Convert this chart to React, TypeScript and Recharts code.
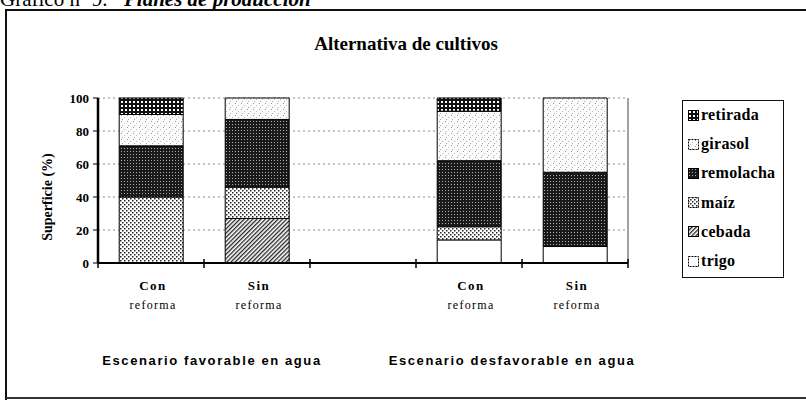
import React from 'react';
import { BarChart, Bar, XAxis, YAxis, CartesianGrid } from 'recharts';

const categoryIds = ['fav-con', 'fav-sin', 'gap', 'desf-con', 'desf-sin'];
const tickLine1 = ['Con', 'Sin', '', 'Con', 'Sin'];
const tickLine2 = ['reforma', 'reforma', '', 'reforma', 'reforma'];
const groupLabels = ['Escenario favorable en agua', 'Escenario desfavorable en agua'];
const yTicks = [0, 20, 40, 60, 80, 100];

const trigo = [null, null, null, 14, 10];
const cebada = [null, 27, null, null, null];
const maiz = [40, 19, null, 8, null];
const remolacha = [31, 41, null, 40, 45];
const girasol = [19, 13, null, 30, 45];
const retirada = [10, null, null, 8, null];

const seriesKeys = ['trigo', 'cebada', 'maiz', 'remolacha', 'girasol', 'retirada'];
const seriesNames = ['trigo', 'cebada', 'maíz', 'remolacha', 'girasol', 'retirada'];
const seriesValues = [trigo, cebada, maiz, remolacha, girasol, retirada];
const seriesFills = ['#ffffff', 'url(#pCebada)', 'url(#pMaiz)', 'url(#pRemolacha)', 'url(#pGirasol)', 'url(#pRetirada)'];

const data = categoryIds.map((id, i) => {
  const row: any = { id };
  seriesKeys.forEach((k, s) => { row[k] = seriesValues[s][i]; });
  return row;
});

const W = 806;
const H = 401;
const M = { top: 98, right: 177, bottom: 108, left: 68 };
const Y_AXIS_W = 30;
const plotW = W - M.left - Y_AXIS_W - M.right - 1;
const band = plotW / categoryIds.length;

const serif = '"Liberation Serif", "Times New Roman", serif';
const sans = '"Liberation Sans", Arial, sans-serif';

const XTick = (props: any) => {
  const { x, y, index } = props;
  const left = x - band / 2;
  const right = x + band / 2;
  return (
    <g>
      <line x1={left} y1={y - 4} x2={left} y2={y + 5} stroke="#000" strokeWidth={1.5} />
      {index === categoryIds.length - 1 && (
        <line x1={right} y1={y - 4} x2={right} y2={y + 5} stroke="#000" strokeWidth={1.5} />
      )}
      <text x={x + 2} y={y + 27} textAnchor="middle" fontFamily={serif} fontWeight="bold" fontSize={13} letterSpacing={1.5} fill="#000">
        {tickLine1[index]}
      </text>
      <text x={x + 2} y={y + 46} textAnchor="middle" fontFamily={serif} fontSize={12} letterSpacing={1.3} fill="#000">
        {tickLine2[index]}
      </text>
    </g>
  );
};

const Patterns = () => (
  <svg width={0} height={0} style={{ position: 'absolute' }}>
    <defs>
      <pattern id="pRetirada" width={4} height={4} patternUnits="userSpaceOnUse">
        <rect width={4} height={4} fill="#111" />
        <rect x={1} y={1} width={2} height={2} fill="#fff" />
      </pattern>
      <pattern id="pRemolacha" width={3} height={3} patternUnits="userSpaceOnUse">
        <rect width={3} height={3} fill="#1a1a1a" />
        <rect x={1} y={1} width={1} height={1} fill="#aaa" />
      </pattern>
      <pattern id="pMaiz" width={4} height={4} patternUnits="userSpaceOnUse">
        <rect width={4} height={4} fill="#fff" />
        <rect x={0} y={0} width={1.5} height={1.5} fill="#222" />
        <rect x={2} y={2} width={1.5} height={1.5} fill="#222" />
      </pattern>
      <pattern id="pCebada" width={3} height={3} patternUnits="userSpaceOnUse" patternTransform="rotate(45)">
        <rect width={3} height={3} fill="#fff" />
        <rect x={0} y={0} width={1.3} height={3} fill="#222" />
      </pattern>
      <pattern id="pGirasol" width={6} height={6} patternUnits="userSpaceOnUse">
        <rect width={6} height={6} fill="#fbfbfb" />
        <rect x={1} y={1} width={1} height={1} fill="#999" />
        <rect x={4} y={3} width={1} height={1} fill="#bbb" />
        <rect x={2} y={5} width={1} height={1} fill="#aaa" />
      </pattern>
    </defs>
  </svg>
);

const legendOrder = [5, 4, 3, 2, 1, 0];

export default function App() {
  return (
    <div style={{ position: 'absolute', left: 0, top: 0, width: W, height: H, overflow: 'hidden', background: '#fff' }}>
      <Patterns />
      <div style={{ position: 'absolute', left: 0, top: 0 }}>
        <BarChart width={W} height={H} data={data} margin={M} barCategoryGap="20%">
          <CartesianGrid vertical={false} stroke="#888" strokeDasharray="2 3" />
          <XAxis
            dataKey="id"
            axisLine={{ stroke: '#000', strokeWidth: 2 }}
            tickLine={false}
            tickSize={0}
            tickMargin={0}
            interval={0}
            tick={<XTick />}
          />
          <YAxis
            width={Y_AXIS_W}
            domain={[0, 100]}
            ticks={yTicks}
            axisLine={{ stroke: '#000', strokeWidth: 2.5 }}
            tickLine={{ stroke: '#000' }}
            tickSize={5}
            tickMargin={4}
            tick={{ fill: '#000', fontFamily: serif, fontWeight: 'bold', fontSize: 13 }}
          />
          <YAxis
            yAxisId="r"
            orientation="right"
            width={1}
            domain={[0, 100]}
            tick={false}
            tickLine={false}
            axisLine={{ stroke: '#444', strokeWidth: 1 }}
          />
          {seriesKeys.map((k, s) => (
            <Bar key={k} dataKey={k} name={seriesNames[s]} stackId="a" fill={seriesFills[s]} stroke="#000" strokeWidth={1} isAnimationActive={false} />
          ))}
        </BarChart>
      </div>
      <svg width={W} height={H} style={{ position: 'absolute', left: 0, top: 0, pointerEvents: 'none' }}>
        <text x={0} y={6} fontFamily={serif} fontSize={21} fill="#000">Gráfico nº 9.</text>
        <text x={124} y={6} fontFamily={serif} fontSize={21} fontWeight="bold" fontStyle="italic" fill="#000">Planes de producción</text>
        <path d="M 6 400 L 6 10 L 806 10" fill="none" stroke="#111" strokeWidth={2} />
        <path d="M 6 398 L 806 398" fill="none" stroke="#333" strokeWidth={2} />
        <text x={406} y={50} textAnchor="middle" fontFamily={serif} fontWeight="bold" fontSize={19} fill="#000">
          Alternativa de cultivos
        </text>
        <text x={0} y={0} transform="translate(52 197) rotate(-90)" textAnchor="middle" fontFamily={serif} fontWeight="bold" fontSize={14} fill="#000">
          Superficie (%)
        </text>
        {groupLabels.map((g, i) => (
          <text key={g} x={i === 0 ? 212 : 512} y={365} textAnchor="middle" fontFamily={sans} fontWeight="bold" fontSize={13} letterSpacing={1.6} fill="#000">
            {g}
          </text>
        ))}
      </svg>
      <div style={{ position: 'absolute', left: 682, top: 100, width: 102, height: 178, border: '1.5px solid #111', boxSizing: 'border-box', background: '#fff' }}>
        {legendOrder.map((s, j) => (
          <div key={s} style={{ position: 'absolute', left: 5, top: 5 + j * 29.2, height: 18, display: 'flex', alignItems: 'center', fontFamily: serif, fontWeight: 'bold', fontSize: 16, whiteSpace: 'nowrap', letterSpacing: 0.3 }}>
            <svg width={11} height={11} style={{ marginRight: 2 }}>
              <rect x={0.5} y={0.5} width={10} height={10} fill={seriesFills[s]} stroke="#000" strokeWidth={1} strokeDasharray={s === 0 || s === 4 || s === 2 ? '2 1' : undefined} />
            </svg>
            {seriesNames[s]}
          </div>
        ))}
      </div>
    </div>
  );
}
